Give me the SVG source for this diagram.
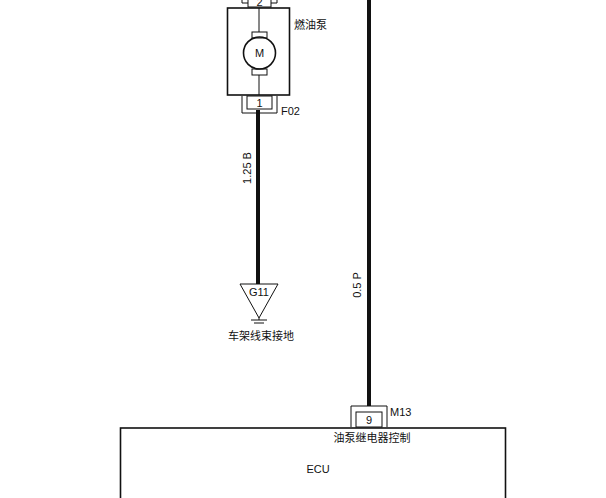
<svg xmlns="http://www.w3.org/2000/svg" width="606" height="498" viewBox="0 0 606 498">
<style>
.t{font-family:"Liberation Sans","Noto Sans CJK SC",sans-serif;font-size:11px;fill:#111}
.b{fill:none;stroke:#111;stroke-width:1.6}
.thin{fill:none;stroke:#111;stroke-width:1}
.w{fill:none;stroke:#111;stroke-width:4}
</style>
<rect width="606" height="498" fill="#fff"/>
<g id="connectors">
<line class="w" x1="258" y1="110" x2="258" y2="284"/>
<line class="w" x1="369" y1="0" x2="369" y2="406"/>
<text class="t" transform="translate(251,168) rotate(-90)" text-anchor="middle">1.25 B</text>
<text class="t" transform="translate(361,285) rotate(-90)" text-anchor="middle">0.5 P</text>
</g>
<g id="pump">
<polyline class="thin" points="242,0 242,3 248,3"/>
<polyline class="thin" points="277,0 277,3 271,3"/>
<rect class="thin" x="248" y="-2" width="23" height="9"/>
<text class="t" x="259.5" y="6" text-anchor="middle" font-size="10">2</text>
<rect class="b" x="227.5" y="8" width="62" height="87"/>
<line class="thin" x1="259" y1="8" x2="259" y2="32"/>
<line class="thin" x1="259" y1="75" x2="259" y2="95"/>
<rect class="thin" x="252" y="32" width="15" height="6" fill="#fff"/>
<rect class="thin" x="252" y="69" width="15" height="6" fill="#fff"/>
<circle class="b" cx="259.5" cy="53" r="16" fill="#fff"/>
<text class="t" x="259.5" y="57" text-anchor="middle" font-size="12">M</text>
<text class="t" x="294" y="29">燃油泵</text>
<rect class="thin" x="247" y="96" width="25" height="13"/>
<text class="t" x="259.5" y="107" text-anchor="middle" font-size="10">1</text>
<polyline class="thin" points="242,96 242,113 277,113 277,96"/>
<text class="t" x="281" y="115">F02</text>
</g>
<g id="ground">
<polygon class="thin" points="240,284 278,284 259,318"/>
<text class="t" x="259" y="296" text-anchor="middle">G11</text>
<line class="thin" x1="259" y1="318" x2="259" y2="320"/>
<line class="thin" x1="251" y1="320" x2="267" y2="320"/>
<line class="thin" x1="254" y1="323" x2="264" y2="323"/>
<text class="t" x="261" y="340" text-anchor="middle">车架线束接地</text>
</g>
<g id="ecu">
<polyline class="thin" points="351,427 351,406 387,406 387,427"/>
<rect class="thin" x="356" y="412" width="26" height="15"/>
<text class="t" x="369" y="424" text-anchor="middle">9</text>
<text class="t" x="390" y="416">M13</text>
<rect class="b" x="120.5" y="428" width="385" height="80"/>
<text class="t" x="372" y="442" text-anchor="middle">油泵继电器控制</text>
<text class="t" x="318" y="473" text-anchor="middle">ECU</text>
</g>
</svg>
